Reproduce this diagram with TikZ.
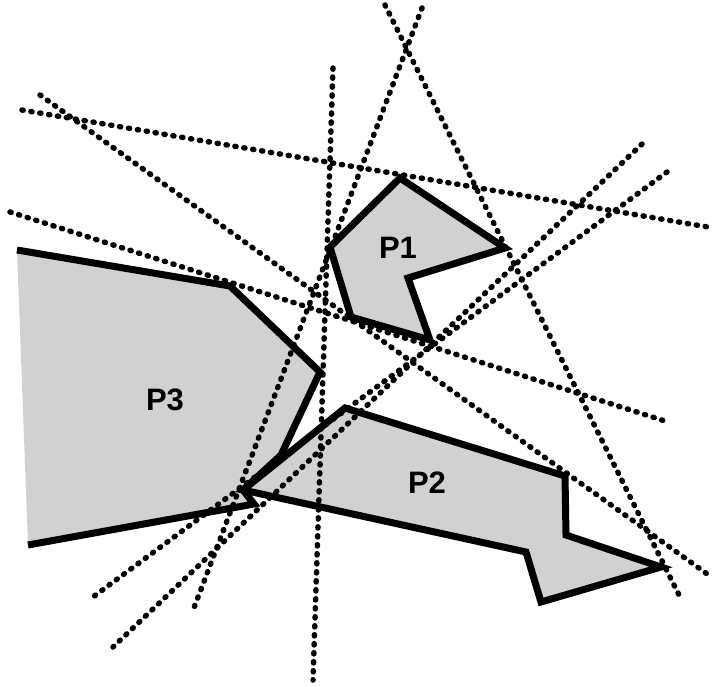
\documentclass[tikz,border=0pt]{standalone}
\usepackage{fontspec}
\setmainfont{Liberation Sans}
\begin{document}
\begin{tikzpicture}[x=1pt,y=-1pt,
  poly/.style={line width=7pt, line join=miter, miter limit=6},
  shade/.style={fill=black!18},
  sep/.style={line width=5.5pt, line cap=round, dash pattern=on 1.2pt off 7.8pt},
  lbl/.style={font=\fontsize{31}{31}\selectfont\bfseries, inner sep=0pt}]
\useasboundingbox (0,0) rectangle (712,686);
% polygon vertices
\coordinate (a1) at (400,178); \coordinate (a2) at (505,248);
\coordinate (a3) at (408,278); \coordinate (a4) at (430,340);
\coordinate (a5) at (351,317); \coordinate (a6) at (330,247);
\coordinate (b1) at (243,490); \coordinate (b2) at (345,408);
\coordinate (b3) at (565,476); \coordinate (b4) at (566,535);
\coordinate (b5) at (661,567); \coordinate (b6) at (541,602);
\coordinate (b7) at (526,552);
\coordinate (c0) at (17,250); \coordinate (c1) at (230,286);
\coordinate (c2) at (320,372); \coordinate (c3) at (281,455);
\coordinate (c4) at (243,490); \coordinate (c5) at (254,504);
\coordinate (c6) at (28,545);
% fills
\fill[shade] (a1)--(a2)--(a3)--(a4)--(a5)--(a6)--cycle;
\fill[shade] (b1)--(b2)--(b3)--(b4)--(b5)--(b6)--(b7)--cycle;
\fill[shade] (c0)--(c1)--(c2)--(c3)--(c4)--(c5)--(c6)--cycle;
% separating lines
\coordinate (l1s) at (333,68);  \coordinate (l1e) at (313,680);
\coordinate (l2s) at (22,110);  \coordinate (l2e) at (708,227);
\coordinate (l3s) at (40,95);   \coordinate (l3e) at (710,576);
\coordinate (l4s) at (10,212);  \coordinate (l4e) at (668,422);
\coordinate (l5s) at (385,5);   \coordinate (l5e) at (680,597);
\coordinate (l6s) at (422,8);   \coordinate (l6e) at (192,613);
\coordinate (l7s) at (642,144); \coordinate (l7e) at (113,647);
\coordinate (l8s) at (667,172); \coordinate (l8e) at (93,597);
\foreach \i in {1,...,8} {\draw[sep] (l\i s) -- (l\i e);}
% outlines
\draw[poly] (a1)--(a2)--(a3)--(a4)--(a5)--(a6)--cycle;
\draw[poly] (b1)--(b2)--(b3)--(b4)--(b5)--(b6)--(b7)--cycle;
\draw[poly] (c0)--(c1)--(c2)--(c3)--(c4)--(c5)--(c6);
% labels
\node[lbl] (p1) at (398,248) {P1};
\node[lbl] (p2) at (427,483) {P2};
\node[lbl] (p3) at (165,400) {P3};
\end{tikzpicture}
\end{document}
